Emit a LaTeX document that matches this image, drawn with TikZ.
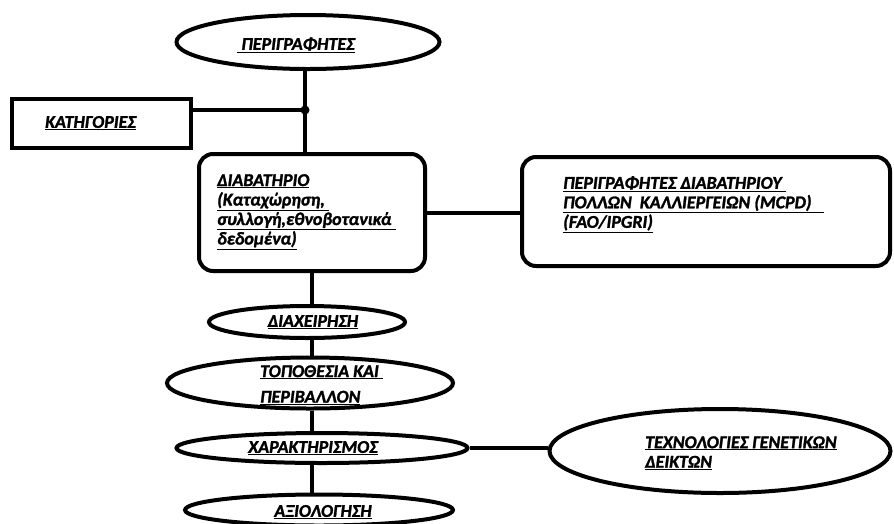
\documentclass[tikz,border=0pt]{standalone}
\usepackage{fontspec}
\setmainfont{Carlito}[BoldItalicFeatures={FakeBold=1.5}]
\usetikzlibrary{shapes.geometric}

\tikzset{
  oval/.style={draw, ellipse, fill=white, line width=4pt, inner sep=0pt},
  plainbox/.style={draw, fill=white, line width=4.5pt, inner sep=0pt},
  roundbox/.style={draw, fill=white, rounded corners=14pt, line width=4pt, inner sep=0pt},
  lbl/.style={font=\bfseries\itshape\fontsize{18}{19.5}\selectfont, align=left, inner sep=0pt},
  link/.style={line width=4pt}
}

\begin{document}
\begin{tikzpicture}[x=1pt,y=-1pt]
\useasboundingbox (0,0) rectangle (894,523);

% shapes
\node[oval, minimum width=263pt, minimum height=54pt] (desc) at (308,42) {};
\node[plainbox, minimum width=179pt, minimum height=49pt] (cat) at (101.5,123.5) {};
\node[roundbox, minimum width=226pt, minimum height=117pt] (pass) at (312,212.5) {};
\node[roundbox, minimum width=368pt, minimum height=109pt] (mcpd) at (706,211.5) {};
\node[oval, minimum width=196pt, minimum height=32pt] (manage) at (307,322) {};
\node[oval, minimum width=286pt, minimum height=51pt] (place) at (310,383) {};
\node[oval, minimum width=291pt, minimum height=30pt] (charact) at (322,448) {};
\node[oval, minimum width=268pt, minimum height=31pt] (assess) at (319,510) {};
\node[oval, minimum width=341pt, minimum height=84pt] (markers) at (720,451) {};
\coordinate (dot) at (305,110);

% connectors
\draw[link] (dot |- desc.south) -- (dot |- pass.north);
\draw[link] (cat.east |- dot) -- (dot);
\fill (dot) circle (4.5pt);
\draw[link] (pass.east) -- (pass.east -| mcpd.west);
\draw[link] (pass.south) -- (pass.south |- manage.north);
\draw[link] (manage.south -| pass.south) -- (place.north -| pass.south);
\draw[link] (place.south -| pass.south) -- (charact.north -| pass.south);
\draw[link] (charact.south -| pass.south) -- (assess.north -| pass.south);
\draw[link] (charact.east) -- (charact.east -| markers.west);

% texts
\node[lbl] (descT) at (296,45) {\underline{\ ΠΕΡΙΓΡΑΦΗΤΕΣ}};
\node[lbl, anchor=west] (catT) at (45,123) {\underline{ΚΑΤΗΓΟΡΙΕΣ}};
\node[lbl, anchor=north west] (passT) at (217,174) {\underline{ΔΙΑΒΑΤΗΡΙΟ}\\
  \underline{(Καταχώρηση,\ }\\ \underline{συλλογή,εθνοβοτανικά\ }\\ \underline{δεδομένα)}};
\node[lbl, anchor=north west] (mcpdT) at (563,176) {\underline{ΠΕΡΙΓΡΑΦΗΤΕΣ ΔΙΑΒΑΤΗΡΙΟΥ\ }\\
  \underline{ΠΟΛΛΩΝ\ \ ΚΑΛΛΙΕΡΓΕΙΩΝ (MCPD)\ \ \ }\\ \underline{(FAO/IPGRI)}};
\node[lbl] (manageT) at (313,322) {\underline{ΔΙΑΧΕΙΡΗΣΗ}};
\node[lbl, anchor=west] (placeT) at (260,385) {\underline{ΤΟΠΟΘΕΣΙΑ ΚΑΙ\ }\\[6pt] \underline{ΠΕΡΙΒΑΛΛΟΝ}};
\node[lbl] (charT) at (313,448) {\underline{ΧΑΡΑΚΤΗΡΙΣΜΟΣ}};
\node[lbl] (assessT) at (323,512) {\underline{ΑΞΙΟΛΟΓΗΣΗ}};
\node[lbl, anchor=west] (markersT) at (645,453) {\underline{ΤΕΧΝΟΛΟΓΙΕΣ ΓΕΝΕΤΙΚΩΝ}\\ \underline{ΔΕΙΚΤΩΝ}};
\end{tikzpicture}
\end{document}
